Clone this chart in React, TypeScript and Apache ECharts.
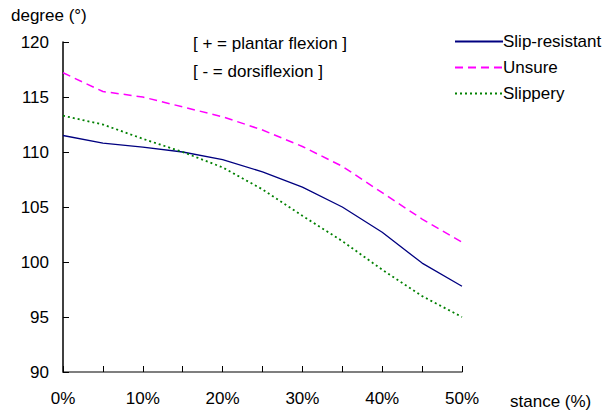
import React, { useEffect, useRef } from "react";
import * as echarts from "echarts";

const stance = [0, 5, 10, 15, 20, 25, 30, 35, 40, 45, 50];
const slipResistant = [111.5, 110.8, 110.45, 110.0, 109.3, 108.2, 106.8, 105.0, 102.7, 99.9, 97.8];
const unsure = [117.2, 115.5, 115.0, 114.1, 113.2, 112.0, 110.5, 108.7, 106.3, 103.9, 101.8];
const slippery = [113.3, 112.5, 111.2, 110.0, 108.6, 106.6, 104.2, 101.9, 99.3, 96.9, 95.0];
const yTicks = { min: 90, max: 120, step: 5 };
const FONT = "Liberation Sans, Arial, sans-serif";

export default function App() {
  const ref = useRef<HTMLDivElement>(null);
  useEffect(() => {
    const chart = echarts.init(ref.current!, null, { renderer: "svg" });
    const mk = (vals: number[]) => stance.map((s, i) => [s, vals[i]]);
    chart.setOption({
      animation: false,
      backgroundColor: "#fff",
      textStyle: { fontFamily: FONT },
      grid: { left: 63, right: 149, top: 42, bottom: 47 },
      xAxis: {
        type: "value",
        min: 0,
        max: 50,
        interval: 5,
        splitLine: { show: false },
        axisLine: { lineStyle: { color: "#555", width: 1.5 } },
        axisTick: { inside: true, length: 6, lineStyle: { color: "#000" } },
        axisLabel: {
          color: "#000",
          fontSize: 17,
          fontFamily: FONT,
          margin: 18,
          formatter: (v: number) => (v % 10 === 0 ? v + "%" : ""),
        },
      },
      yAxis: {
        type: "value",
        min: yTicks.min,
        max: yTicks.max,
        interval: yTicks.step,
        splitLine: { show: false },
        axisLine: { show: true, lineStyle: { color: "#000", width: 1.5 } },
        axisTick: { show: true, inside: true, length: 6, lineStyle: { color: "#000" } },
        axisLabel: { color: "#000", fontSize: 17, fontFamily: FONT, margin: 14 },
      },
      legend: {
        orient: "vertical",
        left: 449,
        top: 28,
        itemWidth: 48,
        itemHeight: 14,
        itemGap: 9,
        itemStyle: { opacity: 0 },
        textStyle: { fontSize: 17, color: "#000", fontFamily: FONT, padding: [0, 0, 0, -5] },
        data: ["Slip-resistant", "Unsure", "Slippery"],
      },
      graphic: [
        { type: "text", left: 11, top: 7, style: { text: "degree (°)", font: `17px ${FONT}`, fill: "#000" } },
        { type: "text", left: 510, top: 393, style: { text: "stance (%)", font: `17px ${FONT}`, fill: "#000" } },
        { type: "text", left: 193, top: 35, style: { text: "[ + = plantar flexion ]", font: `17px ${FONT}`, fill: "#000" } },
        { type: "text", left: 193, top: 63, style: { text: "[ - = dorsiflexion ]", font: `17px ${FONT}`, fill: "#000" } },
      ],
      series: [
        {
          name: "Slip-resistant",
          type: "line",
          data: mk(slipResistant),
          symbol: "none",
          lineStyle: { color: "#000080", width: 1.3, type: "solid" },
          itemStyle: { color: "#000080" },
        },
        {
          name: "Unsure",
          type: "line",
          data: mk(unsure),
          symbol: "none",
          lineStyle: { color: "#ff00ff", width: 1.5, type: [8, 5] },
          itemStyle: { color: "#ff00ff" },
        },
        {
          name: "Slippery",
          type: "line",
          data: mk(slippery),
          symbol: "none",
          lineStyle: { color: "#008000", width: 1.8, type: [2, 3] },
          itemStyle: { color: "#008000" },
        },
      ],
    });
    return () => chart.dispose();
  }, []);
  return <div ref={ref} style={{ width: 611, height: 419, position: "absolute", left: 0, top: 0 }} />;
}
